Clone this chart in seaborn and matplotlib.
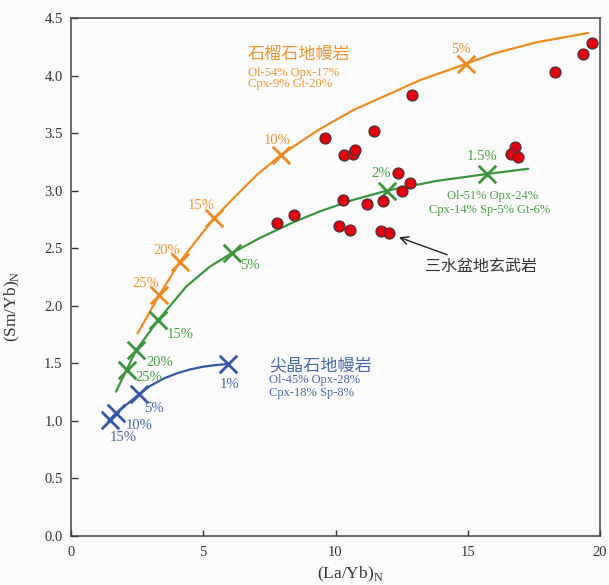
import matplotlib
matplotlib.use("Agg")
import matplotlib.pyplot as plt
import seaborn as sns
import pandas as pd

# Sanshui basin basalts: (La/Yb)N and (Sm/Yb)N
basalt_la_yb = [9.60, 10.33, 10.67, 10.75, 11.46, 12.89, 18.30, 19.36, 19.69,
                16.80, 16.62, 16.91, 12.35, 12.82, 12.50, 11.78, 11.18, 10.27,
                10.13, 10.53, 11.71, 12.01, 7.80, 8.43]
basalt_sm_yb = [3.46, 3.31, 3.32, 3.35, 3.52, 3.83, 4.03, 4.19, 4.28,
                3.38, 3.32, 3.29, 3.15, 3.07, 3.00, 2.91, 2.88, 2.92,
                2.69, 2.66, 2.65, 2.63, 2.72, 2.79]

# Partial melting trajectories
garnet_curve_x = [2.52, 3.34, 4.12, 4.75, 5.41, 6.14, 7.02, 7.94, 8.91, 9.41,
                  10.67, 11.94, 13.19, 14.92, 15.97, 17.61, 19.56]
garnet_curve_y = [1.761, 2.094, 2.383, 2.57, 2.76, 2.934, 3.136, 3.31, 3.46, 3.535,
                  3.70, 3.83, 3.96, 4.10, 4.19, 4.29, 4.37]
mixed_curve_x = [1.70, 2.10, 2.46, 3.30, 4.37, 5.25, 6.07, 7.15, 8.40, 9.41,
                 10.67, 11.94, 13.83, 15.72, 17.29]
mixed_curve_y = [1.254, 1.442, 1.613, 1.877, 2.17, 2.34, 2.456, 2.59, 2.725, 2.82,
                 2.92, 3.00, 3.085, 3.145, 3.19]
spinel_curve_x = [1.47, 1.71, 2.58, 3.00, 3.50, 4.00, 4.50, 5.00, 5.50, 5.95]
spinel_curve_y = [1.01, 1.068, 1.232, 1.305, 1.367, 1.413, 1.447, 1.471, 1.486, 1.494]

# Melting-degree marks on each trajectory
garnet_tick_x = [3.34, 4.12, 5.41, 7.94, 14.92]
garnet_tick_y = [2.094, 2.383, 2.76, 3.31, 4.10]
garnet_tick_labels = ["25%", "20%", "15%", "10%", "5%"]
mixed_tick_x = [2.10, 2.46, 3.30, 6.07, 11.94, 15.72]
mixed_tick_y = [1.442, 1.613, 1.877, 2.456, 3.00, 3.145]
mixed_tick_labels = ["25%", "20%", "15%", "5%", "2%", "1.5%"]
spinel_tick_x = [1.47, 1.71, 2.58, 5.95]
spinel_tick_y = [1.01, 1.068, 1.232, 1.494]
spinel_tick_labels = ["15%", "10%", "5%", "1%"]

x_ticks = [0, 5, 10, 15, 20]
y_ticks = [0.0, 0.5, 1.0, 1.5, 2.0, 2.5, 3.0, 3.5, 4.0, 4.5]

ORANGE = "#f08a1e"
GREEN = "#3b963b"
BLUE = "#3557a8"
ORANGE_T = "#f0952e"
GREEN_T = "#4a9f4a"
BLUE_T = "#4a68b0"
BG = "#fbfbfb"

sns.set_theme(style="ticks")
plt.rcParams["font.family"] = ["Liberation Serif", "Noto Sans CJK SC"]
plt.rcParams["mathtext.fontset"] = "custom"
plt.rcParams["mathtext.rm"] = "Liberation Serif"

fig = plt.figure(figsize=(6.09, 5.85), dpi=100, facecolor=BG)
ax = fig.add_axes([71 / 609, 1 - 536 / 585, 529 / 609, 518 / 585])
ax.set_facecolor(BG)

# trajectories
for cx, cy, col in [(garnet_curve_x, garnet_curve_y, ORANGE),
                    (mixed_curve_x, mixed_curve_y, GREEN),
                    (spinel_curve_x, spinel_curve_y, BLUE)]:
    df = pd.DataFrame({"x": cx, "y": cy})
    sns.lineplot(data=df, x="x", y="y", sort=False, color=col, lw=1.6, ax=ax)

# melting-degree crosses
for tx, ty, col in [(garnet_tick_x, garnet_tick_y, ORANGE),
                    (mixed_tick_x, mixed_tick_y, GREEN),
                    (spinel_tick_x, spinel_tick_y, BLUE)]:
    df = pd.DataFrame({"x": tx, "y": ty})
    sns.scatterplot(data=df, x="x", y="y", marker="x", s=160, color=col,
                    linewidth=2.0, ax=ax, zorder=4)

# basalt samples
df_b = pd.DataFrame({"x": basalt_la_yb, "y": basalt_sm_yb})
sns.scatterplot(data=df_b, x="x", y="y", s=64, color="#e3000f",
                edgecolor="#3a3a3a", linewidth=0.8, ax=ax, zorder=5)

# degree labels
garnet_lbl_pos = [(2.82, 2.19), (3.62, 2.48), (4.91, 2.87), (7.81, 3.44), (14.74, 4.23)]
mixed_lbl_pos = [(2.95, 1.375), (3.36, 1.51), (4.12, 1.75), (6.77, 2.35), (11.72, 3.15), (15.55, 3.30)]
spinel_lbl_pos = [(1.99, 0.854), (2.57, 0.96), (3.15, 1.11), (6.01, 1.32)]
for labels, pos, col in [(garnet_tick_labels, garnet_lbl_pos, ORANGE_T),
                         (mixed_tick_labels, mixed_lbl_pos, GREEN_T),
                         (spinel_tick_labels, spinel_lbl_pos, BLUE_T)]:
    for lab, (px, py) in zip(labels, pos):
        ax.text(px, py, lab, color=col, fontsize=10.5, ha="center", va="center")

# source descriptions
ax.text(6.69, 4.18, "石榴石地幔岩", color=ORANGE_T, fontsize=12.3, ha="left", va="center")
ax.text(6.69, 4.025, "Ol-54% Opx-17%", color=ORANGE_T, fontsize=9, ha="left", va="center")
ax.text(6.69, 3.93, "Cpx-9% Gt-20%", color=ORANGE_T, fontsize=9, ha="left", va="center")

ax.text(15.92, 2.95, "Ol-51% Opx-24%", color=GREEN_T, fontsize=9, ha="center", va="center")
ax.text(15.84, 2.83, "Cpx-14% Sp-5% Gt-6%", color=GREEN_T, fontsize=9, ha="center", va="center")

ax.text(7.49, 1.477, "尖晶石地幔岩", color=BLUE_T, fontsize=12.3, ha="left", va="center")
ax.text(7.49, 1.355, "Ol-45% Opx-28%", color=BLUE_T, fontsize=9, ha="left", va="center")
ax.text(7.49, 1.242, "Cpx-18% Sp-8%", color=BLUE_T, fontsize=9, ha="left", va="center")

ax.annotate("三水盆地玄武岩", xy=(12.40, 2.595), xytext=(13.38, 2.337),
            color="#333333", fontsize=11.5, ha="left", va="center",
            arrowprops=dict(arrowstyle="->", color="#222222", lw=1.0,
                            shrinkA=2, shrinkB=0, mutation_scale=14))

ax.set_xlim(0, 20)
ax.set_ylim(0, 4.5)
ax.set_xticks(x_ticks)
ax.set_yticks(y_ticks)
ax.set_xticklabels([str(t) for t in x_ticks])
ax.set_yticklabels([f"{t:.1f}" for t in y_ticks])
ax.tick_params(axis="x", direction="in", length=4, width=1, pad=7,
               labelsize=10.5, colors="#333333")
ax.tick_params(axis="y", direction="in", length=5, width=1, pad=6,
               labelsize=10.5, colors="#333333")
for sp in ax.spines.values():
    sp.set_color("#444444")
    sp.set_linewidth(1.1)

ax.set_xlabel(r"(La/Yb)$_\mathregular{N}$", fontsize=12.5, color="#333333")
ax.set_ylabel(r"(Sm/Yb)$_\mathregular{N}$", fontsize=12.5, color="#333333")
ax.xaxis.set_label_coords(0.528, -0.055)
ax.yaxis.set_label_coords(-0.092, 0.444)

fig.savefig("out.png", dpi=100, facecolor=BG)
